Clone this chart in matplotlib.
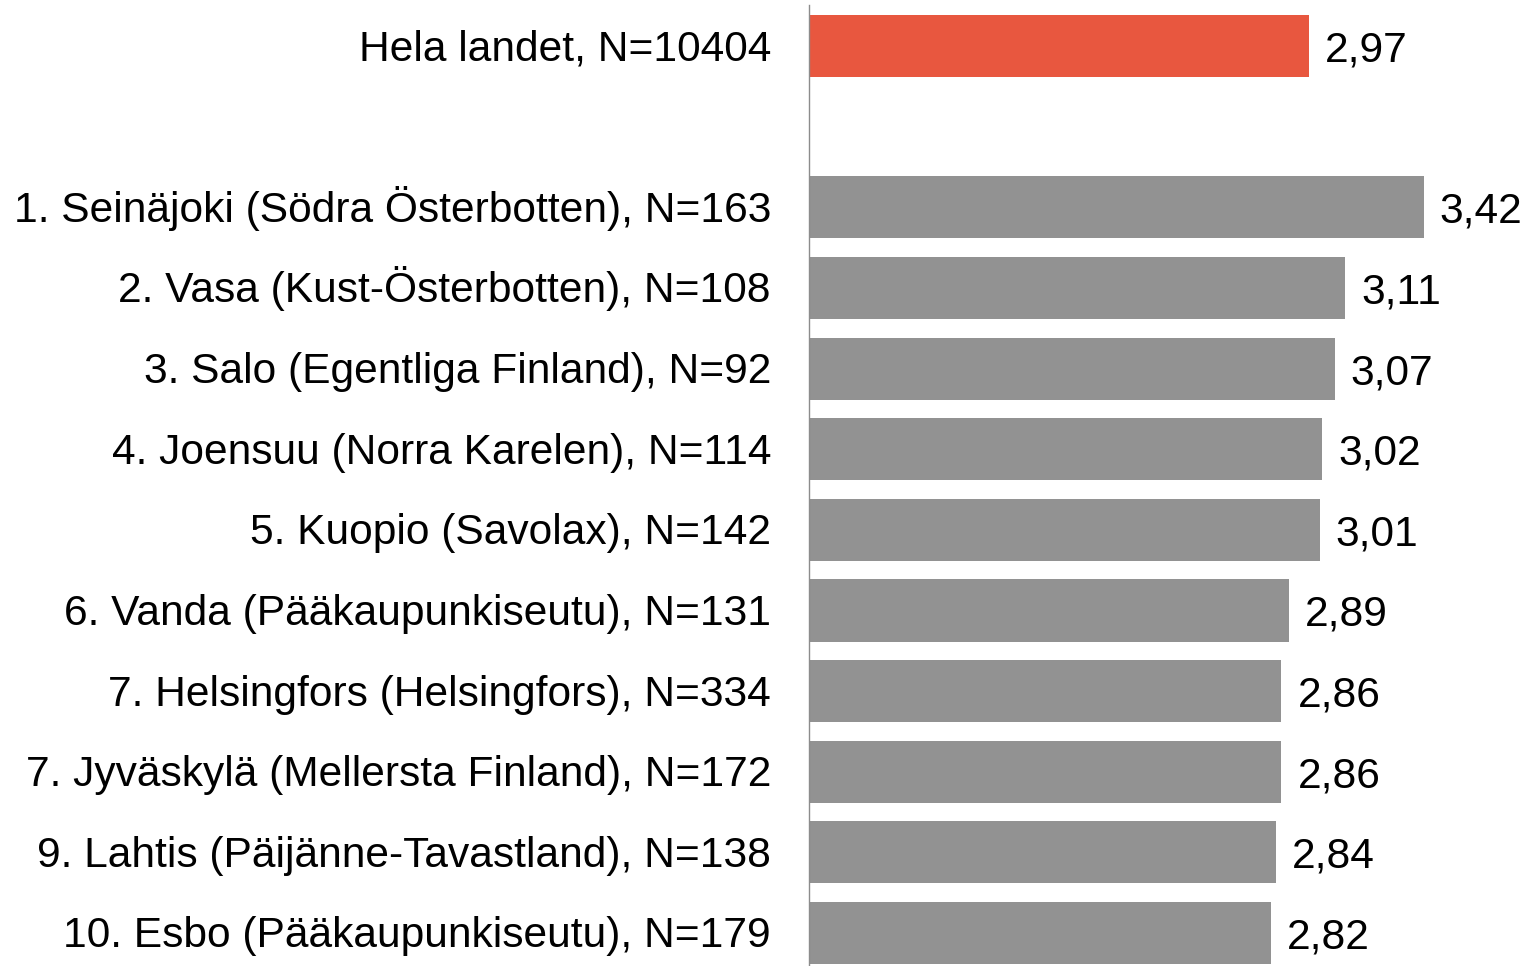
import matplotlib.pyplot as plt
from matplotlib.transforms import ScaledTranslation

# Data
labels = [
    "Hela landet, N=10404",
    "1. Seinäjoki (Södra Österbotten), N=163",
    "2. Vasa (Kust-Österbotten), N=108",
    "3. Salo (Egentliga Finland), N=92",
    "4. Joensuu (Norra Karelen), N=114",
    "5. Kuopio (Savolax), N=142",
    "6. Vanda (Pääkaupunkiseutu), N=131",
    "7. Helsingfors (Helsingfors), N=334",
    "7. Jyväskylä (Mellersta Finland), N=172",
    "9. Lahtis (Päijänne-Tavastland), N=138",
    "10. Esbo (Pääkaupunkiseutu), N=179",
]
values = [2.97, 3.42, 3.11, 3.07, 3.02, 3.01, 2.89, 2.86, 2.86, 2.84, 2.82]

# first row is the whole country, then an empty slot, then the cities
positions = [0] + list(range(2, 2 + len(values) - 1))
colors = ["#E8573F"] + ["#929292"] * (len(values) - 1)

plt.rcParams['font.family'] = ['Liberation Sans', 'DejaVu Sans']
FS = 30.6

W, H = 1524, 966
fig = plt.figure(figsize=(W / 100, H / 100), dpi=100)
ax = fig.add_axes([809 / W, 0, 715 / W, 961 / H])

ax.barh(positions, [v - 1 for v in values], left=1, height=0.77,
        color=colors)

ax.set_xlim(1, 3.815)
ax.set_ylim(11.41, -0.51)
ax.set_xticks([])
ax.set_yticks([])

# category labels left of the axis, baseline so that capitals sit centred on the bar
lab_trans = ax.get_yaxis_transform() + ScaledTranslation(-0.38, -0.145, fig.dpi_scale_trans)
for y, lab in zip(positions, labels):
    ax.text(0, y, lab, transform=lab_trans, ha='right', va='baseline',
            fontsize=FS, clip_on=False)

# value labels with decimal comma
val_trans = ax.transData + ScaledTranslation(0.16, -0.155, fig.dpi_scale_trans)
for y, v in zip(positions, values):
    ax.text(v, y, f"{v:.2f}".replace('.', ','), transform=val_trans,
            ha='left', va='baseline', fontsize=FS, clip_on=False)

for side in ['top', 'right', 'bottom']:
    ax.spines[side].set_visible(False)
ax.spines['left'].set_color('#8c8c8c')
ax.spines['left'].set_linewidth(1)

fig.savefig('out.png', dpi=100)
